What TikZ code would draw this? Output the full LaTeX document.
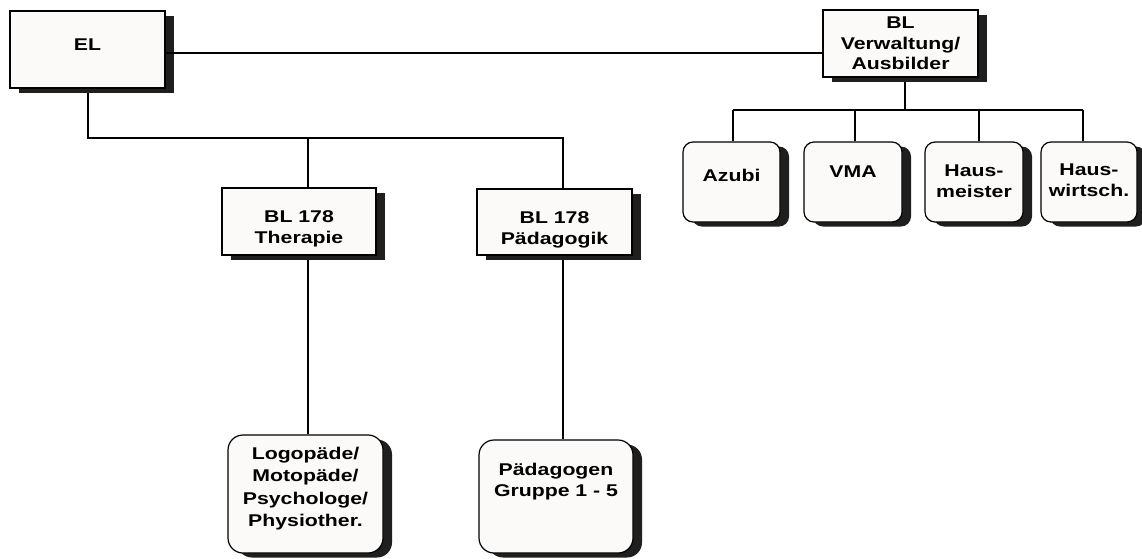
\documentclass[tikz,border=0pt]{standalone}
\usepackage{fontspec}
\setmainfont{Liberation Sans}[FakeStretch=1.25]
\usetikzlibrary{shadows}
\definecolor{papier}{RGB}{252,249,249}
\tikzset{
  kasten/.style={draw, line width=1.2pt, fill=papier, inner sep=0pt,
    drop shadow={shadow xshift=9pt, shadow yshift=-4.5pt, fill=black!88, opacity=1}},
  rund/.style={kasten, rounded corners=10pt},
  grossrund/.style={kasten, rounded corners=15pt},
  schrift/.style={font=\bfseries\fontsize{17}{20.5}\selectfont, align=center, inner sep=0pt},
  linie/.style={line width=1.3pt}
}
\begin{document}
\begin{tikzpicture}[x=1pt, y=-1pt]
    \useasboundingbox (0,0) rectangle (1142,558);
    % Kaesten oben
    \node[kasten, minimum width=155pt, minimum height=77pt] (el) at (87.5,49.5) {};
    \node[kasten, minimum width=155pt, minimum height=67pt] (verw) at (900.5,43.5) {};
    \node[kasten, minimum width=154pt, minimum height=67pt] (ther) at (299,221.5) {};
    \node[kasten, minimum width=155pt, minimum height=66pt] (paed) at (554.5,222) {};
    % Kaesten unten
    \node[grossrund, minimum width=155pt, minimum height=118pt] (logo) at (305.5,494) {};
    \node[grossrund, minimum width=154pt, minimum height=113pt] (grp) at (556,496.5) {};
    % Kaesten rechts
    \node[rund, minimum width=97pt, minimum height=80pt] (azubi) at (731.5,182) {};
    \node[rund, minimum width=98pt, minimum height=80pt] (vma) at (853,182) {};
    \node[rund, minimum width=98pt, minimum height=80pt] (hmeist) at (974,182) {};
    \node[rund, minimum width=96pt, minimum height=80pt] (hwirt) at (1089,182) {};
    % Texte
    \node[schrift] (elT) at ([yshift=5pt]el.center) {EL};
    \node[schrift] (verwT) at (verw.center) {BL\\Verwaltung/\\Ausbilder};
    \node[schrift] (therT) at ([yshift=-7.5pt]ther.center) {BL 178\\Therapie};
    \node[schrift] (paedT) at ([yshift=-8pt]paed.center) {BL 178\\Pädagogik};
    \node[schrift, font=\bfseries\fontsize{17}{22.5}\selectfont] (logoT) at ([yshift=5.5pt]logo.center) {Logopäde/\\Motopäde/\\Psychologe/\\Physiother.};
    \node[schrift] (grpT) at ([yshift=15pt]grp.center) {Pädagogen\\Gruppe 1 - 5};
    \node[schrift] (azubiT) at ([yshift=7pt]azubi.center) {Azubi};
    \node[schrift] (vmaT) at ([yshift=10pt]vma.center) {VMA};
    \node[schrift] (hmeistT) at ([yshift=1pt]hmeist.center) {Haus-\\meister};
    \node[schrift] (hwirtT) at ([yshift=2pt]hwirt.center) {Haus-\\wirtsch.};
    % Verzweigungen
    \coordinate (busL) at (88,138);
    \coordinate (busT) at (308,138);
    \coordinate (busP) at (563,138);
    \coordinate (busV) at (905,110);
    \coordinate (tapA) at (733,110);
    \coordinate (tapB) at (855,110);
    \coordinate (tapC) at (979,110);
    \coordinate (tapD) at (1083,110);
    % Linien
    \draw[linie] (el.east |- 0,53) -- (verw.west |- 0,53);
    \draw[linie] ([yshift=-4.5pt]el.south -| busL) -- (busL) -- (busP) -- (paed.north -| busP);
    \draw[linie] (busT) -- (ther.north -| busT);
    \draw[linie] ([yshift=-4.5pt]ther.south -| busT) -- (logo.north -| busT);
    \draw[linie] ([yshift=-4.5pt]paed.south -| busP) -- (grp.north -| busP);
    \draw[linie] ([yshift=-4.5pt]verw.south -| busV) -- (busV);
    \draw[linie] (tapA) -- (tapD);
    \draw[linie] (tapA) -- (azubi.north -| tapA);
    \draw[linie] (tapB) -- (vma.north -| tapB);
    \draw[linie] (tapC) -- (hmeist.north -| tapC);
    \draw[linie] (tapD) -- (hwirt.north -| tapD);
\end{tikzpicture}
\end{document}
